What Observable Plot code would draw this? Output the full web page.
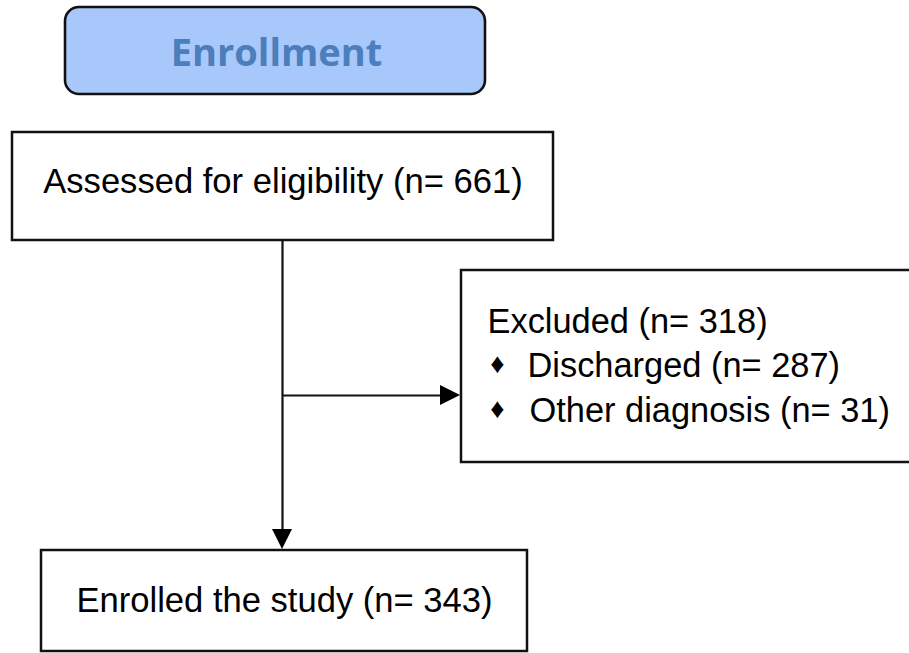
<!DOCTYPE html>
<html>
<head>
<meta charset="utf-8">
<script src="https://cdn.jsdelivr.net/npm/d3@7"></script>
<script src="https://cdn.jsdelivr.net/npm/@observablehq/plot@0.6"></script>
<style>
  html, body { margin: 0; padding: 0; background: #ffffff; }
  #chart svg { display: block; }
</style>
</head>
<body>
<div id="chart"></div>
<script>
// ---- Data (flow stages and counts) ----
const phaseLabels = ["Enrollment"];
const stageLabels = ["Assessed for eligibility", "Excluded", "Enrolled the study"];
const stageCounts = [661, 318, 343];
const reasonLabels = ["Discharged", "Other diagnosis"];
const reasonCounts = [287, 31];

// ---- Layout (pixel frame of the diagram) ----
const W = 909, H = 653;
const boxAssessed = {x1: 12, x2: 553, y1: 132, y2: 240};
const boxExcluded = {x1: 461, x2: 915, y1: 270, y2: 462};
const boxEnrolled = {x1: 41, x2: 527, y1: 550, y2: 651};
const boxPhase = {x1: 65, x2: 485, y1: 7, y2: 94};
const spineX = 282, branchY = 395, head = 20, halfHead = 10;

const fmt = (label, n) => `${label} (n= ${n})`;

const boxes = [boxAssessed, boxExcluded, boxEnrolled];

const mainTexts = [
  {x: (boxAssessed.x1 + boxAssessed.x2) / 2, y: 192, t: fmt(stageLabels[0], stageCounts[0])},
  {x: (boxEnrolled.x1 + boxEnrolled.x2) / 2, y: 611, t: fmt(stageLabels[2], stageCounts[2])}
];
const exclTexts = [
  {x: 487, y: 332, t: fmt(stageLabels[1], stageCounts[1])},
  {x: 527, y: 376, t: fmt(reasonLabels[0], reasonCounts[0])},
  {x: 529, y: 421, t: fmt(reasonLabels[1], reasonCounts[1])}
];
const bullets = reasonLabels.map((d, i) => ({x: 497, y: [372, 417][i]}));

// connector lines
const links = [
  {x1: spineX, y1: boxAssessed.y2, x2: spineX, y2: boxEnrolled.y1 - head},
  {x1: spineX, y1: branchY, x2: boxExcluded.x1 - head, y2: branchY}
];
// arrow heads (triangles)
const tipDown = boxEnrolled.y1 - 1;
const headDown = [
  {x: spineX - halfHead, a: tipDown - head, b: tipDown - head},
  {x: spineX, a: tipDown - head, b: tipDown},
  {x: spineX + halfHead, a: tipDown - head, b: tipDown - head}
];
const tipRight = boxExcluded.x1 - 1;
const headRight = [
  {y: branchY - halfHead, a: tipRight - head, b: tipRight - head},
  {y: branchY, a: tipRight - head, b: tipRight},
  {y: branchY + halfHead, a: tipRight - head, b: tipRight - head}
];

const chart = Plot.plot({
  width: W,
  height: H,
  margin: 0,
  x: {type: "linear", domain: [0, W], range: [0, W], axis: null},
  y: {type: "linear", domain: [0, H], range: [0, H], axis: null},
  style: {background: "#ffffff", fontFamily: "'Liberation Sans', Arial, sans-serif"},
  marks: [
    // phase header
    Plot.rect([boxPhase], {x1: "x1", x2: "x2", y1: "y1", y2: "y2", fill: "#a8c7fa", stroke: "#111111", strokeWidth: 2.6, rx: 14}),
    Plot.text(phaseLabels, {x: (boxPhase.x1 + boxPhase.x2) / 2 + 1, y: 65, text: d => d, fill: "#4b7ebb",
      fontSize: 38, fontWeight: "bold", fontFamily: "'Open Sans', Lato, sans-serif", lineAnchor: "bottom", textAnchor: "middle"}),
    // flow boxes
    Plot.rect(boxes, {x1: "x1", x2: "x2", y1: "y1", y2: "y2", fill: "#ffffff", stroke: "#111111", strokeWidth: 2.5}),
    // connectors
    Plot.link(links, {x1: "x1", y1: "y1", x2: "x2", y2: "y2", stroke: "#111111", strokeWidth: 2.2}),
    Plot.areaY(headDown, {x: "x", y1: "a", y2: "b", fill: "#000000", curve: "linear"}),
    Plot.areaX(headRight, {y: "y", x1: "a", x2: "b", fill: "#000000", curve: "linear"}),
    // texts
    Plot.text(mainTexts, {x: "x", y: "y", text: "t", fontSize: 34.6, fill: "#000000", lineAnchor: "bottom", textAnchor: "middle"}),
    Plot.text(exclTexts, {x: "x", y: "y", text: "t", fontSize: 34.4, fill: "#000000", lineAnchor: "bottom", textAnchor: "start"}),
    Plot.text(bullets, {x: "x", y: "y", text: () => "\u2666", fontSize: 28, fill: "#000000", lineAnchor: "bottom", textAnchor: "middle"})
  ]
});
document.getElementById("chart").appendChild(chart);
</script>
</body>
</html>
